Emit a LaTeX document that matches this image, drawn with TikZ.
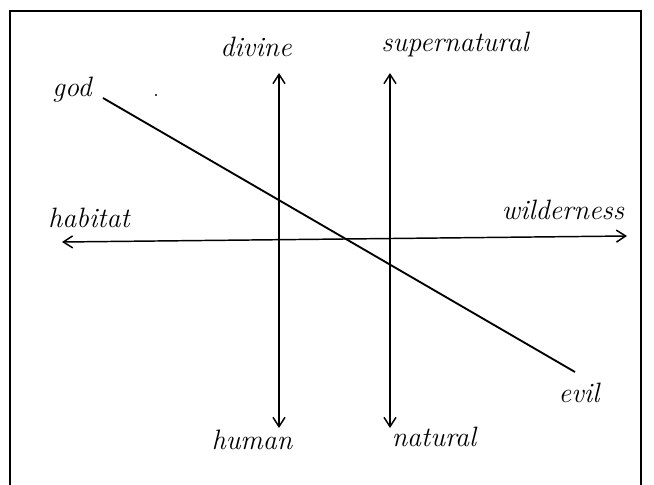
\documentclass[tikz,border=0pt]{standalone}
\usetikzlibrary{arrows.meta}
\begin{document}
\begin{tikzpicture}[x=0.75pt,y=-0.75pt,
  lbl/.style={font=\fontsize{21}{24}\selectfont\itshape, inner sep=0pt},
  axis/.style={line width=1.1pt, {Straight Barb[length=7pt,width=9pt]}-{Straight Barb[length=7pt,width=9pt]}},
  diag/.style={line width=1.4pt}]
\useasboundingbox (0,0) rectangle (654,485);
\draw[line width=1.8pt] (10,487) -- (10,11) -- (641,11) -- (641,487);
% endpoints
\coordinate (d1) at (279,73);
\coordinate (h1) at (279,428);
\coordinate (s1) at (390,73);
\coordinate (n1) at (390,428);
\coordinate (hl) at (62,242);
\coordinate (hr) at (627,236);
\coordinate (g1) at (103,98);
\coordinate (e1) at (575,372);
\draw[axis] (d1) -- (h1);
\draw[axis] (s1) -- (n1);
\draw[axis] (hl) -- (hr);
\draw[diag] (g1) -- (e1);
\fill (156,95) circle (1.2);
% labels
\node[lbl] (god) at (72,90) {god};
\node[lbl] (divine) at (256,47) {divine};
\node[lbl] (supernatural) at (455,45) {supernatural};
\node[lbl] (habitat) at (89,218) {habitat};
\node[lbl] (wilderness) at (563,210) {wilderness};
\node[lbl] (evil) at (579,393) {evil};
\node[lbl] (human) at (252,440) {human};
\node[lbl] (natural) at (434,437) {natural};
\end{tikzpicture}
\end{document}
